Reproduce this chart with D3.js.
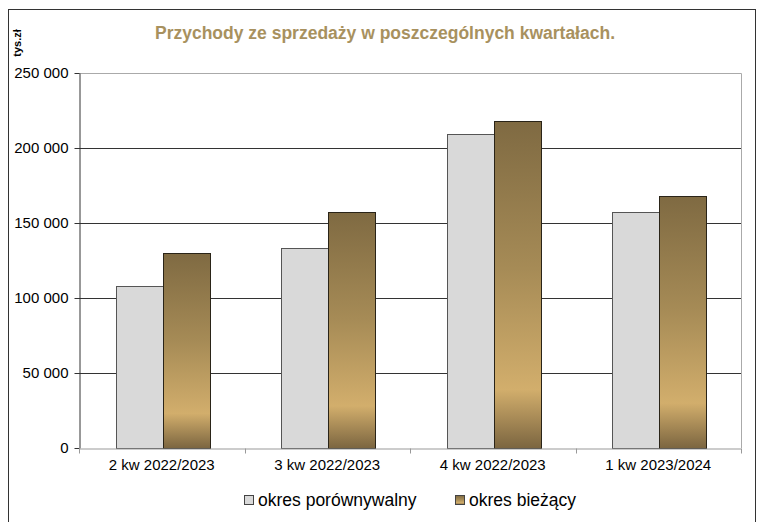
<!DOCTYPE html>
<html>
<head>
<meta charset="utf-8">
<script src="https://cdn.jsdelivr.net/npm/d3@7"></script>
<style>
  body { margin: 0; background: #fff; }
  svg text { font-family: "Liberation Sans", Arial, sans-serif; }
</style>
</head>
<body>
<svg id="chart" width="758" height="522"></svg>
<script>
var categories = ["2 kw 2022/2023", "3 kw 2022/2023", "4 kw 2022/2023", "1 kw 2023/2024"];
var seriesNames = ["okres porównywalny", "okres bieżący"];
var prevValues = [108000, 133500, 209500, 157300];
var currValues = [130000, 157500, 218000, 168000];
var yTicks = [0, 50000, 100000, 150000, 200000, 250000];

var width = 758, height = 522;
var margin = { left: 79, top: 73, right: 17, bottom: 74 };

var svg = d3.select("svg#chart");

// outer frame
svg.append("rect")
    .attr("x", 8.5).attr("y", 9.5)
    .attr("width", 747).attr("height", 530)
    .style("fill", "none")
    .style("stroke", "#333")
    .style("stroke-width", 1);

var defs = svg.append("defs");
var grad = defs.append("linearGradient")
    .attr("id", "brown")
    .attr("x1", 0).attr("y1", 0).attr("x2", 0).attr("y2", 1);
grad.append("stop").attr("offset", "0%").attr("stop-color", "#7f6a42");
grad.append("stop").attr("offset", "45%").attr("stop-color", "#a68b56");
grad.append("stop").attr("offset", "82%").attr("stop-color", "#d2ae6c");
grad.append("stop").attr("offset", "100%").attr("stop-color", "#7b6540");

var plotW = width - margin.left - margin.right;
var plotH = height - margin.top - margin.bottom;

var g = svg.append("g")
    .attr("transform", "translate(" + margin.left + "," + margin.top + ")");

var x = d3.scaleBand().domain(categories).range([0, plotW]);
var y = d3.scaleLinear().domain([0, 250000]).range([plotH, 0]);

var fmt = function(d) { return d3.format(",")(d).replace(/,/g, " "); };

// grid lines
g.append("g")
    .selectAll("line")
    .data(yTicks.filter(d => d > 0 && d < 250000))
    .enter()
    .append("line")
    .attr("x1", 0).attr("x2", plotW)
    .attr("y1", d => Math.round(y(d)) + 0.5)
    .attr("y2", d => Math.round(y(d)) + 0.5)
    .style("stroke", "#333")
    .style("stroke-width", 1);

// plot frame top/right
g.append("path")
    .attr("d", "M0," + 0.5 + "H" + (plotW + 0.5) + "V" + plotH)
    .style("fill", "none")
    .style("stroke", "#aaa")
    .style("stroke-width", 1);

// bars
var barW = x.bandwidth() * 0.285;
var bars = g.append("g");
categories.forEach(function(c, i) {
    var cx = x(c) + x.bandwidth() / 2 + 1;
    bars.append("rect")
        .attr("x", Math.round(cx - barW) + 0.5)
        .attr("y", Math.round(y(prevValues[i])) + 0.5)
        .attr("width", Math.round(barW))
        .attr("height", Math.round(plotH - y(prevValues[i])))
        .style("fill", "#d9d9d9")
        .style("stroke", "#555")
        .style("stroke-width", 1);
    bars.append("rect")
        .attr("x", Math.round(cx) + 0.5)
        .attr("y", Math.round(y(currValues[i])) + 0.5)
        .attr("width", Math.round(barW))
        .attr("height", Math.round(plotH - y(currValues[i])))
        .style("fill", "url(#brown)")
        .style("stroke", "#2a2418")
        .style("stroke-width", 1);
});

// y axis
var yAxis = g.append("g")
    .attr("class", "axis axis-y")
    .attr("transform", "translate(0.5,0)")
    .call(d3.axisLeft(y).tickValues(yTicks).tickFormat(fmt).tickSize(5).tickSizeOuter(0));
yAxis.select(".domain").style("stroke", "#333");
yAxis.selectAll(".tick line").style("stroke", "#333");
yAxis.selectAll("text")
    .attr("x", -11)
    .style("font-size", "15px")
    .style("font-family", "Liberation Sans, Arial, sans-serif")
    .style("fill", "#000");

// x axis
var xAxis = g.append("g")
    .attr("class", "axis axis-x")
    .attr("transform", "translate(0," + (plotH + 0.5) + ")")
    .call(d3.axisBottom(x).tickSize(0).tickSizeOuter(0));
xAxis.select(".domain").style("stroke", "#999");
xAxis.selectAll("text")
    .attr("y", 11)
    .style("font-size", "15px")
    .style("font-family", "Liberation Sans, Arial, sans-serif")
    .style("fill", "#000");
// small tick marks at band edges
xAxis.selectAll("line.edge")
    .data(d3.range(categories.length + 1))
    .enter()
    .append("line")
    .attr("class", "edge")
    .attr("x1", d => Math.round(d * x.bandwidth()) + 0.5)
    .attr("x2", d => Math.round(d * x.bandwidth()) + 0.5)
    .attr("y1", 0).attr("y2", 5)
    .style("stroke", "#999");

// title
svg.append("text")
    .attr("x", 385)
    .attr("y", 39)
    .style("text-anchor", "middle")
    .style("font-size", "17.5px")
    .style("font-weight", "bold")
    .style("fill", "#a8915e")
    .text("Przychody ze sprzedaży w poszczególnych kwartałach.");

// unit label
svg.append("text")
    .attr("transform", "translate(21,43) rotate(-90)")
    .style("text-anchor", "middle")
    .style("font-size", "11px")
    .style("font-weight", "bold")
    .style("fill", "#000")
    .text("tys.zł");

// legend
var legend = svg.append("g").attr("transform", "translate(244,495)");
var legX = [0, 211];
var legFill = ["#d9d9d9", "url(#brown)"];
seriesNames.forEach(function(name, i) {
    legend.append("rect")
        .attr("x", legX[i] + 0.5).attr("y", 0.5)
        .attr("width", 9).attr("height", 9)
        .style("fill", legFill[i])
        .style("stroke", "#444");
    legend.append("text")
        .attr("x", legX[i] + 14)
        .attr("y", 11)
        .style("font-size", "17.5px")
        .style("fill", "#000")
        .text(name);
});
</script>
</body>
</html>
